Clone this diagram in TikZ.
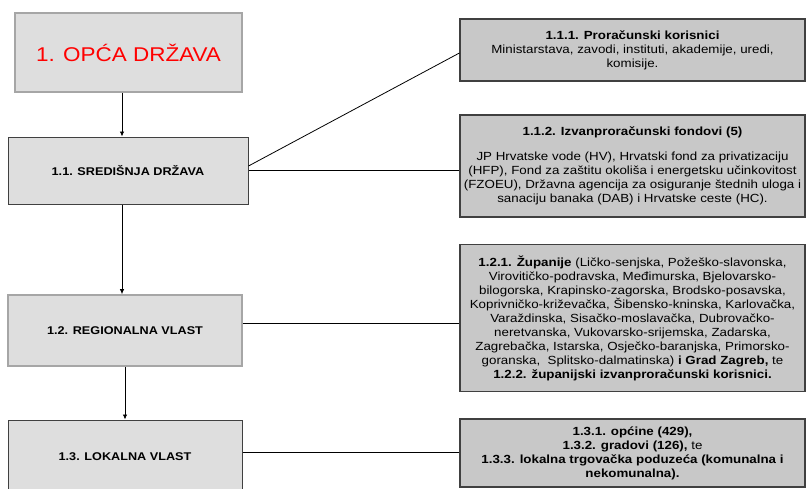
\documentclass[tikz,border=0pt]{standalone}
\usepackage{fontspec}
\setmainfont{Liberation Sans}[FakeStretch=1.13]
\usetikzlibrary{arrows.meta}
\definecolor{boxfill}{HTML}{DEDEDE}
\definecolor{rfill}{HTML}{C8C8C8}
\definecolor{lightborder}{HTML}{A6A6A6}
\definecolor{darkborder}{HTML}{404040}
\definecolor{titlered}{HTML}{FF0000}
\begin{document}
\begin{tikzpicture}[x=1pt,y=-1pt,
  lbox/.style={draw=darkborder, fill=boxfill, line width=1pt, inner sep=0pt,
    font=\fontsize{11.2}{13}\selectfont\bfseries},
  lboxlight/.style={lbox, draw=lightborder, line width=1.6pt},
  rbox/.style={draw=darkborder, fill=rfill, line width=1.2pt, minimum width=345pt,
    inner sep=0pt, align=center, font=\fontsize{11.8}{14}\selectfont},
  conn/.style={draw=black, line width=0.8pt},
  arr/.style={conn, -{Latex[length=5pt,width=4.5pt]}}
]
\fill[white] (0,0) rectangle (806,488);
\useasboundingbox (0,0) rectangle (806,488);

% left column
\node[lboxlight, minimum width=227pt, minimum height=79pt,
      font=\fontsize{19.9}{22}\selectfont, text=titlered] (n1) at (128.5,52.5) {1. OPĆA DRŽAVA};
\node[lbox, minimum width=240pt, minimum height=67pt] (n11) at (128,170.5) {1.1. SREDIŠNJA DRŽAVA};
\node[lboxlight, minimum width=234pt, minimum height=71pt] (n12) at (125,330.5) {1.2. REGIONALNA VLAST};
\node[lbox, minimum width=234pt, minimum height=74pt] (n13) at (125,457) {1.3. LOKALNA VLAST};

% right column
\node[rbox, minimum height=62pt] (r111) at (632.5,50)
  {\textbf{1.1.1. Proračunski korisnici}\\
   Ministarstava, zavodi, instituti, akademije, uredi,\\
   komisije.};
\node[rbox, minimum height=102pt] (r112) at (632.5,166)
  {\textbf{1.1.2. Izvanproračunski fondovi (5)}\\[11pt]
   JP Hrvatske vode (HV), Hrvatski fond za privatizaciju\\
   (HFP), Fond za zaštitu okoliša i energetsku učinkovitost\\
   (FZOEU), Državna agencija za osiguranje štednih uloga i\\
   sanaciju banaka (DAB) i Hrvatske ceste (HC).};
\node[rbox, minimum height=147pt] (r121) at (632.5,318)
  {\textbf{1.2.1. Županije} (Ličko-senjska, Požeško-slavonska,\\
   Virovitičko-podravska, Međimurska, Bjelovarsko-\\
   bilogorska, Krapinsko-zagorska, Brodsko-posavska,\\
   Koprivničko-križevačka, Šibensko-kninska, Karlovačka,\\
   Varaždinska, Sisačko-moslavačka, Dubrovačko-\\
   neretvanska, Vukovarsko-srijemska, Zadarska,\\
   Zagrebačka, Istarska, Osječko-baranjska, Primorsko-\\
   goranska,\ \ Splitsko-dalmatinska) \textbf{i Grad Zagreb,} te\\
   \textbf{1.2.2. županijski izvanproračunski korisnici.}};
\node[rbox, minimum height=68pt] (r13) at (632.5,453)
  {\textbf{1.3.1. općine (429),}\\
   \textbf{1.3.2. gradovi (126),} te\\
   \textbf{1.3.3. lokalna trgovačka poduzeća (komunalna i}\\
   \textbf{nekomunalna).}};

% connectors
\coordinate (ax) at (122,0);
\draw[arr] (n1.south -| ax) -- (n11.north -| ax);
\draw[arr] (n11.south -| ax) -- (n12.north -| ax);
\draw[arr] (n12.south) -- (n13.north);
\draw[conn] ([yshift=4.5pt]n11.east) -- ([yshift=-3pt]r111.west);
\draw[conn] (n11.east) -- (n11.east -| r112.west);
\draw[conn] ([yshift=7.5pt]n12.east) -- ([yshift=7.5pt]n12.east -| r121.west);
\draw[conn] ([yshift=4.5pt]n13.east) -- ([yshift=4.5pt]n13.east -| r13.west);
\end{tikzpicture}
\end{document}
